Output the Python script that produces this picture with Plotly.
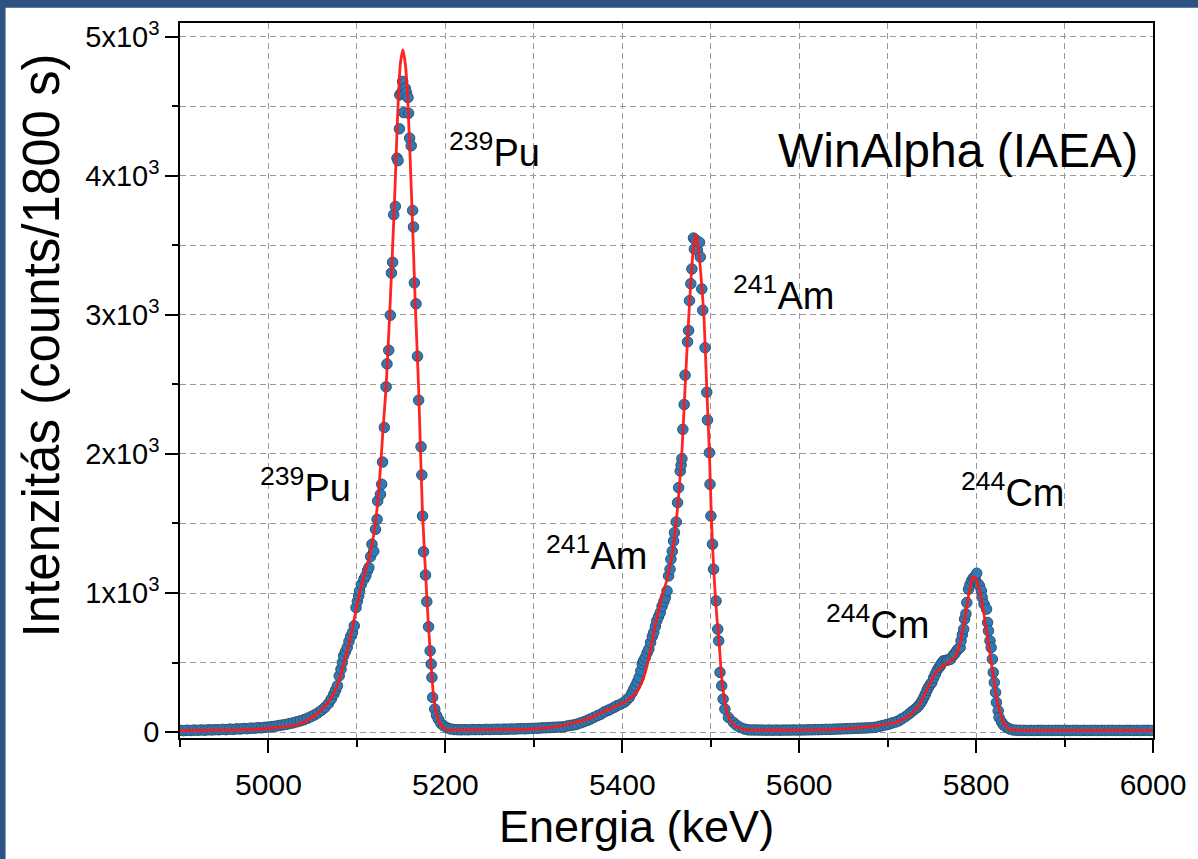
import plotly.graph_objects as go

# ---- measured spectrum (channel energy in keV, counts per 1800 s) ----
energy_keV = [
    4900, 4904, 4908, 4912, 4916, 4920, 4924, 4928, 4932, 4936, 4940, 4944, 4948, 4952, 4956, 4960,
    4964, 4968, 4972, 4976, 4980, 4984, 4988, 4992, 4996, 5000, 5004, 5008, 5012, 5016, 5020, 5024,
    5028, 5032, 5036, 5040, 5044, 5048, 5052, 5056, 5060, 5064, 5068, 5071, 5074, 5076, 5078,
    5080, 5082, 5083.5, 5085, 5087, 5089, 5091, 5093, 5095, 5097, 5099, 5100.5, 5102, 5103, 5105,
    5108, 5110, 5112, 5113.5, 5115.5, 5117, 5119, 5121, 5122.8, 5123.5, 5126.6, 5128, 5129, 5131,
    5133, 5134, 5136, 5137.8, 5139, 5140.4, 5141.6, 5143.5, 5145.3, 5146.5, 5148, 5148.5, 5150.5,
    5151.7, 5152.8, 5154.7, 5156, 5157.7, 5158.4, 5159.6, 5161.4, 5163, 5164, 5165, 5166.8, 5168.5,
    5169.8, 5172.5, 5173.4, 5174.2, 5175.3, 5177.5, 5179, 5181, 5182.8, 5184, 5184.8, 5185.6, 5188,
    5190, 5192, 5195, 5198, 5202, 5206,
    5210, 5214, 5218, 5222, 5226, 5230, 5234, 5238, 5242, 5246, 5250, 5254, 5258, 5262, 5266, 5270,
    5274, 5278, 5282, 5286, 5290, 5294, 5298, 5302, 5306, 5310, 5314, 5318, 5322, 5326, 5330, 5334,
    5338, 5342, 5346, 5349, 5353, 5357, 5361, 5364, 5368, 5372, 5376, 5380, 5384, 5387, 5391, 5394,
    5398, 5402, 5405, 5408, 5411, 5413, 5415, 5417, 5419, 5421, 5422.5, 5424, 5426, 5428, 5430, 5432,
    5434, 5435.6, 5437.5, 5439, 5441, 5443, 5445, 5447, 5448.7, 5450.6, 5452.4, 5454, 5455, 5456.5,
    5458, 5459, 5461, 5462.5, 5463.7, 5465.5, 5466.5, 5467.4, 5468.5, 5470, 5471, 5473.8, 5475, 5476,
    5477.5, 5478.7, 5480.5, 5481.5, 5483, 5485, 5487.3, 5488.2, 5489.9, 5491, 5493.6, 5495.5, 5496.3,
    5498.5, 5499.2, 5500.2, 5502, 5503.2, 5506, 5507.9, 5509, 5510.5, 5512.4, 5514, 5516, 5520,
    5525.5, 5529, 5533, 5538,
    5542, 5546, 5550, 5554, 5558, 5562, 5566, 5570, 5574, 5578, 5582, 5586, 5590, 5594, 5598, 5602,
    5606, 5610, 5614, 5618, 5622, 5626, 5630, 5634, 5638, 5642, 5646, 5650, 5654, 5658, 5662, 5666,
    5670, 5674, 5678, 5682, 5686, 5690, 5694, 5698, 5701.5, 5705, 5709, 5712.7, 5716, 5720, 5724,
    5727, 5730, 5733, 5735, 5737, 5739, 5741, 5742.7, 5744.5, 5746, 5748, 5750, 5752, 5754, 5756,
    5758, 5759.6, 5761, 5763, 5766, 5768, 5771, 5774, 5776, 5778, 5780, 5782, 5783, 5784.5, 5786,
    5787, 5788.5, 5789.5, 5791.4, 5793, 5795, 5797, 5799, 5800.7, 5802.6, 5804, 5806, 5807, 5809,
    5811.8, 5813, 5814, 5815.7, 5817, 5818.4, 5819.4, 5820.6, 5822, 5823, 5825, 5826, 5829, 5831,
    5834.5, 5838,
    5842, 5846, 5850, 5854, 5858, 5862, 5866, 5870, 5874, 5878, 5882, 5886, 5890, 5894, 5898, 5902,
    5906, 5910, 5914, 5918, 5922, 5926, 5930, 5934, 5938, 5942, 5946, 5950, 5954, 5958, 5962, 5966,
    5970, 5974, 5978, 5982, 5986, 5990, 5994, 5998,
]
counts = [
    12, 10, 13, 11, 14, 12, 15, 13, 16, 15, 17, 16, 19, 17, 21, 19,
    23, 22, 25, 24, 28, 27, 31, 30, 34, 36, 39, 42, 47, 51, 55, 61,
    66, 73, 80, 88, 99, 110, 123, 138, 156, 178, 206, 237, 273, 302, 333,
    404, 452, 500, 548, 578, 608, 652, 688, 716, 764, 895, 940, 979, 1015, 1062,
    1100, 1123, 1160, 1183, 1262, 1351, 1300, 1458, 1530, 1662, 1710, 1782, 1942, 2191,
    2483, 2648, 2746, 2998, 3302, 3379, 3721, 3781, 4128, 4110, 4339, 4583, 4600,
    4680, 4456, 4630, 4600, 4564, 4451, 4272, 4217, 3752, 3633, 3231, 3080, 2703,
    2387, 2052, 1849, 1554, 1297, 1129, 938, 757, 584, 489, 393, 249, 165,
    120, 93, 62, 45, 30, 22,
    18, 17, 16, 17, 16, 18, 17, 18, 17, 19, 18, 19, 20, 19, 21, 20,
    22, 21, 23, 24, 23, 25, 26, 27, 28, 30, 31, 32, 34, 35, 36, 38,
    44, 48, 52, 57, 66, 75, 85, 93, 106, 118, 129, 145, 156, 165, 178, 189,
    200, 213, 230, 249, 282, 308, 333, 360, 392, 440, 489, 512, 536, 568, 596, 644,
    688, 716, 760, 800, 830, 860, 905, 938, 967, 1015, 1123, 1171, 1243, 1300,
    1374, 1434, 1511, 1650, 1758, 1877, 1920, 1966, 2177, 2356, 2567, 2807, 2888, 3103,
    3225, 3331, 3553, 3474, 3540, 3464, 3522, 3417, 3187, 3034, 2764, 2444, 2244,
    2009, 1782, 1554, 1351, 1171, 943, 740, 656, 429, 333, 237, 165, 105,
    70, 50, 34, 22,
    16, 15, 15, 14, 14, 13, 14, 13, 14, 13, 14, 14, 14, 15, 14, 15,
    15, 16, 16, 17, 17, 18, 19, 19, 20, 21, 22, 23, 24, 25, 26, 27,
    28, 29, 30, 32, 34, 40, 46, 52, 57, 65, 72, 81, 95, 110, 129,
    145, 160, 175, 189, 205, 225, 250, 273, 300, 321, 340, 357, 390, 417, 445,
    465, 476, 495, 512, 515, 518, 524, 550, 565, 584, 600, 608, 656, 700, 740,
    812, 850, 931, 1027, 1060, 1090, 1110, 1099, 1142, 1063, 1050, 1015, 967, 920,
    884, 788, 728, 656, 608, 524, 429, 357, 285, 213, 153, 105, 70, 50,
    34, 22,
    15, 13, 12, 12, 11, 12, 11, 12, 12, 11, 12, 11, 12, 12, 11, 12,
    11, 12, 12, 11, 12, 11, 12, 12, 11, 12, 11, 12, 12, 11, 12, 11,
    12, 12, 11, 12, 11, 12, 12, 11,
]

# ---- fitted curve (WinAlpha) ----
fit_energy = [
    4900, 4940, 4980, 5000, 5020, 5035, 5050, 5060, 5072, 5080, 5085, 5093, 5102, 5108, 5114,
    5119, 5123, 5126.6, 5130, 5133, 5137, 5142.3, 5146, 5149, 5152, 5155, 5157.7, 5162.2, 5166,
    5169.7, 5174, 5180, 5184, 5186.5, 5190, 5194, 5198, 5203, 5240, 5280, 5300, 5327, 5345, 5364,
    5383, 5402, 5413, 5422, 5428, 5435.6, 5443, 5450.6, 5456, 5460, 5463.7, 5466, 5467.4, 5471,
    5475, 5479, 5482.4, 5484.5, 5487, 5490, 5492.5, 5495.5, 5498.5, 5501, 5504, 5507, 5509, 5512,
    5516, 5520, 5525, 5530, 5536, 5545, 5600, 5650, 5686.5, 5709, 5724, 5735, 5746.4, 5755.8,
    5763, 5774, 5780, 5785.8, 5791.4, 5796, 5797.5, 5799.5, 5802.6, 5808, 5813.8, 5819.4, 5825,
    5830.7, 5836, 5842, 5900, 6000,
]
fit_counts = [
    10, 13, 20, 27, 40, 58, 110, 160, 255, 375, 490, 690, 970, 1120, 1260,
    1420, 1620, 1900, 2220, 2483, 3000, 3780, 4430, 4800, 4907, 4790, 4520, 3780, 3080,
    2483, 1600, 860, 470, 270, 130, 60, 30, 17, 17, 19, 22, 40, 65, 100,
    160, 213, 265, 357, 476, 716, 931, 1099, 1267, 1458, 1698, 1889, 2009, 2480,
    2967, 3380, 3578, 3540, 3420, 3200, 2967, 2470, 2009, 1500, 1100, 820, 692, 420,
    213, 110, 60, 35, 20, 15, 14, 22, 45, 70, 117, 189, 333, 440,
    476, 524, 596, 764, 979, 1111, 1118, 1105, 1051, 884, 644, 404, 189,
    70, 28, 15, 12, 12,
]

# ---- axis ticks and labels ----
y_tick_values = [0, 1000, 2000, 3000, 4000, 5000]
y_tick_labels = ["0", "1x10<sup>3</sup>", "2x10<sup>3</sup>", "3x10<sup>3</sup>",
                 "4x10<sup>3</sup>", "5x10<sup>3</sup>"]
x_title = "Energia (keV)"
y_title = "Intenzitás (counts/1800 s)"

# ---- peak labels ----
label_texts = ["<sup>239</sup>Pu", "<sup>239</sup>Pu", "<sup>241</sup>Am", "<sup>241</sup>Am",
               "<sup>244</sup>Cm", "<sup>244</sup>Cm"]
label_x = [5202, 4988, 5523, 5311, 5781, 5628]
label_y = [4186, 1778, 3158, 1289, 1741, 793]

FONT = "Liberation Sans, Arial, Helvetica, sans-serif"

fig = go.Figure()
fig.add_trace(go.Scatter(
    x=energy_keV, y=counts, mode="markers",
    marker=dict(size=10.5, color="#2b7bb9", line=dict(color="#34506b", width=1)),
    showlegend=False, hoverinfo="x+y",
))
fig.add_trace(go.Scatter(
    x=fit_energy, y=fit_counts, mode="lines",
    line=dict(color="rgba(255,25,25,0.95)", width=2.8, shape="spline", smoothing=0.6),
    showlegend=False,
))

for t, xv, yv in zip(label_texts, label_x, label_y):
    fig.add_annotation(x=xv, y=yv, xref="x", yref="y", text=t, showarrow=False,
                       xanchor="left", yanchor="middle",
                       font=dict(family=FONT, size=38, color="black"))
fig.add_annotation(x=5985, y=4186, xref="x", yref="y", text="WinAlpha (IAEA)",
                   showarrow=False, xanchor="right", yanchor="middle",
                   font=dict(family=FONT, size=48, color="black"))

# axis titles (placed as in the reference, slightly off-centre)
fig.add_annotation(x=0.469, y=-0.124, xref="paper", yref="paper", text=x_title,
                   showarrow=False, xanchor="center", yanchor="middle",
                   font=dict(family=FONT, size=45, color="black"))
fig.add_annotation(x=-0.1414, y=0.5497, xref="paper", yref="paper", text=y_title,
                   showarrow=False, xanchor="center", yanchor="middle", textangle=-90,
                   font=dict(family=FONT, size=51, color="black"))

# dark blue frame strips (top and left)
fig.add_shape(type="rect", xref="paper", yref="paper", x0=-0.3, x1=1.2, y0=1.0215, y1=1.1,
              fillcolor="#2e5282", line=dict(width=0), layer="above")
fig.add_shape(type="rect", xref="paper", yref="paper", x0=-0.3, x1=-0.1793, y0=-0.3, y1=1.1,
              fillcolor="#2e5282", line=dict(width=0), layer="above")

grid_col = "#9a9a9a"
fig.update_layout(
    width=1198, height=859,
    margin=dict(l=180, r=42, t=23, b=121),
    paper_bgcolor="white", plot_bgcolor="white",
    font=dict(family=FONT, color="black"),
    xaxis=dict(
        range=[4900, 6000], tick0=5000, dtick=200,
        ticks="outside", ticklen=13, tickwidth=1.5, tickcolor="black",
        showline=True, linecolor="black", linewidth=1.5, mirror=True,
        showgrid=True, gridcolor=grid_col, griddash="6px,4px", gridwidth=1,
        zeroline=False,
        tickfont=dict(size=30), ticklabelstandoff=6,
        minor=dict(dtick=100, tick0=4900, ticks="outside", ticklen=7, tickcolor="black",
                   tickwidth=1.5, showgrid=True, gridcolor=grid_col, griddash="6px,4px",
                   gridwidth=1),
    ),
    yaxis=dict(
        range=[-43, 5100],
        tickvals=y_tick_values, ticktext=y_tick_labels,
        ticks="outside", ticklen=13, tickwidth=1.5, tickcolor="black",
        showline=True, linecolor="black", linewidth=1.5, mirror=True,
        showgrid=True, gridcolor=grid_col, griddash="6px,4px", gridwidth=1,
        zeroline=False,
        tickfont=dict(size=29),
        minor=dict(dtick=500, tick0=0, ticks="outside", ticklen=6, tickcolor="black",
                   tickwidth=1.5, showgrid=True, gridcolor=grid_col, griddash="6px,4px",
                   gridwidth=1),
    ),
)

fig.write_html("out.html", config={"displayModeBar": False},
               post_script="document.body.style.margin='0px';")
